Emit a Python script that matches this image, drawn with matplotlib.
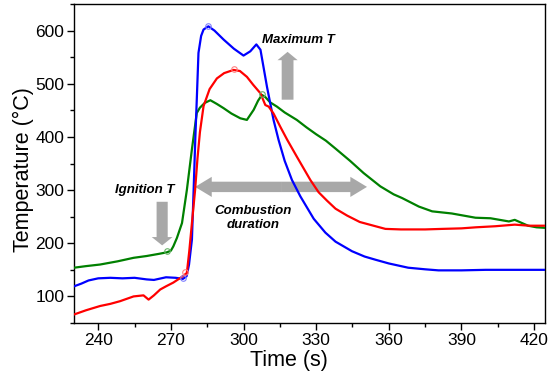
import matplotlib
matplotlib.use("Agg")
import matplotlib.pyplot as plt
from matplotlib.patches import FancyArrowPatch
from matplotlib.ticker import MultipleLocator

plt.rcParams['font.family'] = ['Liberation Sans', 'DejaVu Sans']

# --- данные ---
blue_t = [230, 233, 236, 240, 245, 250, 255, 260, 263, 268, 272, 275, 276.5, 277.5, 278.7, 279.4,
          280.1, 280.7, 281.4, 282.5, 283.5, 285.5, 288, 291.8, 296, 300, 302.8, 305.3, 307, 309.7,
          312.4, 314.5, 317, 320, 323.5, 326.9, 329, 333.8, 338, 344.8, 350, 354.5, 360, 368, 375,
          380.5, 390, 400, 410, 424.5]
blue_T = [119, 124, 130, 134, 135, 134, 135, 132, 131, 136, 135, 133, 138, 160, 207, 300,
          398, 470, 558, 590, 602, 608, 600, 583, 566, 553, 561, 574, 564, 494,
          432, 394, 355, 319, 288, 262, 246, 220, 203, 185, 175, 169, 162, 154, 151,
          149, 149, 150, 150, 150]

red_t = [230, 235, 240.8, 245, 249, 254.6, 258.7, 260.8, 263, 265.6, 268, 271, 274, 276.6, 277.6,
         278.7, 280, 281, 282, 283.5, 286, 289, 292, 295.9, 298.5, 301.4, 304, 307, 309, 310.4,
         312.4, 315.2, 318, 322, 327.6, 331, 334.5, 338, 342.8, 348, 354.5, 358.6, 365, 375, 382,
         390, 396, 404, 412, 418, 424.5]
red_T = [66, 74, 82, 86, 91, 100, 102, 94, 102, 113, 119, 126, 135, 144, 185,
         238, 300, 360, 409, 458, 490, 510, 520, 526, 524, 513, 498, 482, 460, 457,
         444, 419, 395, 363, 319, 296, 280, 265, 252, 240, 232, 227, 226, 226, 227,
         228, 230, 232, 235, 233, 233]

green_t = [230, 235, 240.8, 248, 254.6, 260, 265, 268.4, 270, 271, 272.5, 274.6, 276.6, 278.7,
           280.7, 282, 284, 286.3, 289, 291.8, 295, 298.7, 301.4, 304.2, 306, 307.6, 309, 311,
           313.8, 317, 322, 326, 330, 334, 338, 344, 349.6, 356.5, 362, 365.5, 372.4, 377.9, 386,
           395.8, 402, 409.6, 412, 415, 417.5, 421, 424.5]
green_T = [154, 157, 160, 166, 172.6, 176, 180, 183, 186, 194, 210, 238, 300, 377,
           445, 455, 464, 469, 462, 454, 444, 435, 432, 451, 468, 479, 475, 465,
           457, 446, 432, 418, 405, 393, 378, 355, 332, 307, 292, 285, 269, 260, 256,
           248, 247, 241, 244, 238, 233, 230, 229]

# маркеры (ignition / peak)
mark_blue = ([275, 285.5], [134, 608])
mark_red = ([276, 296], [146, 527])
mark_green = ([268.4, 307.6], [186, 480])

GRAY = '#a8a8a8'

fig = plt.figure(figsize=(5.5, 3.79), dpi=100)
ax = fig.add_axes([74/550, 1 - 323/379, 471/550, 319/379])

for t, T, c, mk, mc in [(green_t, green_T, '#008000', mark_green, '#66b366'),
                        (blue_t, blue_T, '#0000ff', mark_blue, '#8080ff'),
                        (red_t, red_T, '#ff0000', mark_red, '#ff8080')]:
    ax.plot(t, T, color=c, lw=1.6, zorder=3)
    ax.plot(mk[0], mk[1], 'o', ms=4, mfc='none', mec=mc, mew=0.8, zorder=4)

def arrow(p0, p1, shaft, head_w, head_l):
    a = FancyArrowPatch(p0, p1, arrowstyle=f'simple,head_width={head_w},head_length={head_l},tail_width={shaft}',
                        color=GRAY, mutation_scale=1, shrinkA=0, shrinkB=0, lw=0, zorder=2)
    ax.add_patch(a)

# стрелки
arrow((318.2, 470), (318.2, 560), 8.5, 14.5, 6)
arrow((266.4, 278), (266.4, 196), 8, 15, 6)
arrow((315.5, 306), (280, 306), 7.5, 14.5, 12)
arrow((315.5, 306), (351, 306), 7.5, 14.5, 12)

tkw = dict(fontsize=9.5, fontweight='bold', fontstyle='italic')
ax.text(307.8, 583, 'Maximum T', ha='left', va='center', **tkw)
ax.text(259.4, 300, 'Ignition T', ha='center', va='center', **tkw)
ax.text(304, 247.5, 'Combustion\nduration', ha='center', va='center', linespacing=1.3, **tkw)

ax.set_xlim(230, 424.5)
ax.set_ylim(50, 650)
ax.xaxis.set_major_locator(MultipleLocator(30))
ax.xaxis.set_minor_locator(MultipleLocator(15))
ax.yaxis.set_major_locator(MultipleLocator(100))
ax.yaxis.set_minor_locator(MultipleLocator(50))
ax.set_yticks(range(100, 601, 100))
ax.tick_params(which='major', direction='out', length=5, width=1, labelsize=12.5, pad=2)
ax.tick_params(which='minor', direction='out', length=3, width=1)
ax.tick_params(top=False, right=False, which='both')
for s in ax.spines.values():
    s.set_linewidth(1)

ax.set_xlabel('Time (s)', fontsize=15.5)
ax.set_ylabel('Temperature (°C)', fontsize=15.5)
ax.xaxis.set_label_coords(0.456, -0.085)
ax.yaxis.set_label_coords(-0.085, 0.48)

fig.savefig('out.png', dpi=100)
